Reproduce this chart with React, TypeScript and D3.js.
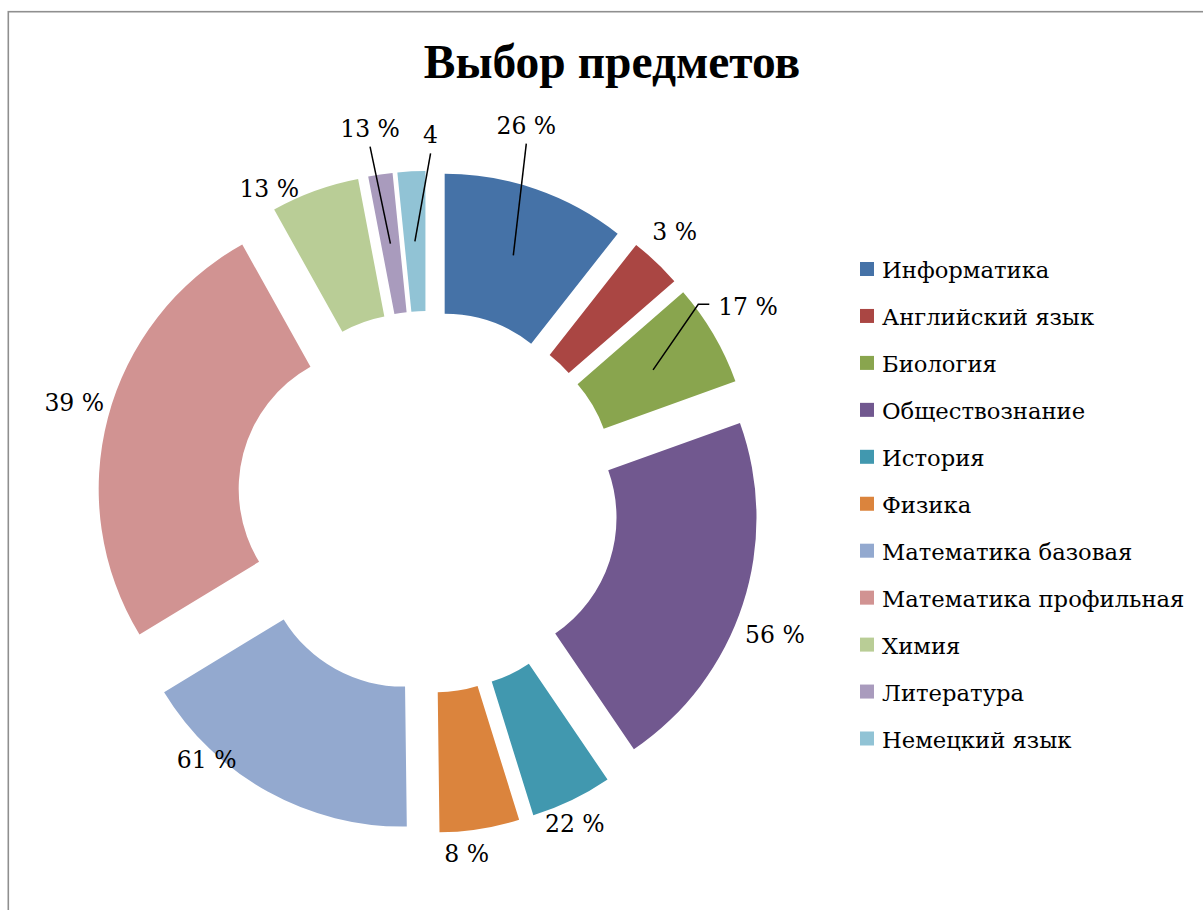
import React from "react";
import * as d3 from "d3";

// ---- data ----
const categories = [
  "Информатика",
  "Английский язык",
  "Биология",
  "Обществознание",
  "История",
  "Физика",
  "Математика базовая",
  "Математика профильная",
  "Химия",
  "Литература",
  "Немецкий язык",
];
// slice sizes (share of the ring, %)
const sliceValues = [10.6, 3.0, 5.9, 21.0, 4.7, 4.6, 16.5, 25.6, 5.1, 1.4, 1.6];
// data label texts as shown
const labelTexts = ["26 %", "3 %", "17 %", "56 %", "22 %", "8 %", "61 %", "39 %", "13 %", "13 %", "4"];
const colors = [
  "#4572A7", "#AA4643", "#89A54E", "#71588F", "#4198AF", "#DB843D",
  "#93A9CF", "#D19392", "#B9CD96", "#A99BBD", "#91C3D5",
];

// ---- layout ----
const W = 1203;
const H = 910;
const CX = 428;
const CY = 502;
const R_OUT = 280;
const R_IN = 140;
const EXPLODE = 51;
// label anchors: polar (deg clockwise from top, radius) around the chart centre
const labelPolar: [number, number][] = [
  [14.6, 390], [42.3, 366.5], [58.5, 375.3], [110.9, 371.4], [155.4, 352.8],
  [173.7, 352.8], [220.7, 339.4], [285.8, 367.6], [333.2, 352.1], [351.2, 378.8], [0.4, 367.7],
];
// leader line style per label
const leaders: ("top" | "left" | null)[] = [
  "top", null, "left", null, null, null, null, null, null, "top", "top",
];
const LABEL_FONT = "'DejaVu Serif', serif";

export default function App() {
  const pie = d3.pie<number>().sort(null).value((d) => d).startAngle(0).endAngle(2 * Math.PI);
  const arcs = pie(sliceValues);
  const arc = d3.arc<d3.PieArcDatum<number>>().innerRadius(R_IN).outerRadius(R_OUT);

  const legendX = 860;
  const legendY0 = 269;
  const legendStep = 46.95;

  return (
    <svg
      width={W}
      height={H}
      style={{ position: "absolute", left: 0, top: 0, background: "#fff" }}
    >
      <rect x={8.3} y={11.7} width={W + 20} height={H + 20} fill="#fff" stroke="#8f8f8f" strokeWidth={1.6} />
      <text
        x={612}
        y={78}
        textAnchor="middle"
        fontFamily="'Liberation Serif', 'Times New Roman', serif"
        fontWeight="bold"
        fontSize={47.5}
        fill="#000"
      >
        Выбор предметов
      </text>
      <g>
        {arcs.map((a, i) => {
          const mid = (a.startAngle + a.endAngle) / 2;
          const ox = EXPLODE * Math.sin(mid);
          const oy = -EXPLODE * Math.cos(mid);
          return (
            <path
              key={i}
              d={arc(a) || ""}
              transform={`translate(${CX + ox},${CY + oy})`}
              fill={colors[i]}
            />
          );
        })}
      </g>
      <g fontFamily={LABEL_FONT} fontSize={23.5} fill="#000">
        {arcs.map((a, i) => {
          const mid = (a.startAngle + a.endAngle) / 2;
          const ox = EXPLODE * Math.sin(mid);
          const oy = -EXPLODE * Math.cos(mid);
          const [cxr, cyr] = arc.centroid(a);
          const tx = CX + ox + cxr;
          const ty = CY + oy + cyr;
          const [ang, rad] = labelPolar[i];
          const t = (ang * Math.PI) / 180;
          const lx = CX + rad * Math.sin(t);
          const ly = CY - rad * Math.cos(t);
          const baseline = ly + 9;
          const halfW = labelTexts[i].length > 2 ? 28 : 7;
          let leader: React.ReactNode = null;
          if (leaders[i] === "top") {
            leader = (
              <polyline points={`${lx},${baseline + 10} ${tx},${ty}`} fill="none" stroke="#000" strokeWidth={1.5} />
            );
          } else if (leaders[i] === "left") {
            const sx = lx - halfW - 10.7;
            const sy = ly - 1.7;
            leader = (
              <polyline
                points={`${sx},${sy} ${sx - 11},${sy} ${tx},${ty}`}
                fill="none"
                stroke="#000"
                strokeWidth={1.5}
              />
            );
          }
          return (
            <g key={i}>
              {leader}
              <text x={lx} y={baseline} textAnchor="middle">
                {labelTexts[i]}
              </text>
            </g>
          );
        })}
      </g>
      <g fontFamily={LABEL_FONT} fontSize={22.7} fill="#000">
        {categories.map((c, i) => {
          const y = legendY0 + i * legendStep;
          return (
            <g key={c}>
              <rect x={legendX} y={y - 7} width={14} height={14} fill={colors[i]} />
              <text x={882} y={y + 9}>
                {c}
              </text>
            </g>
          );
        })}
      </g>
    </svg>
  );
}
